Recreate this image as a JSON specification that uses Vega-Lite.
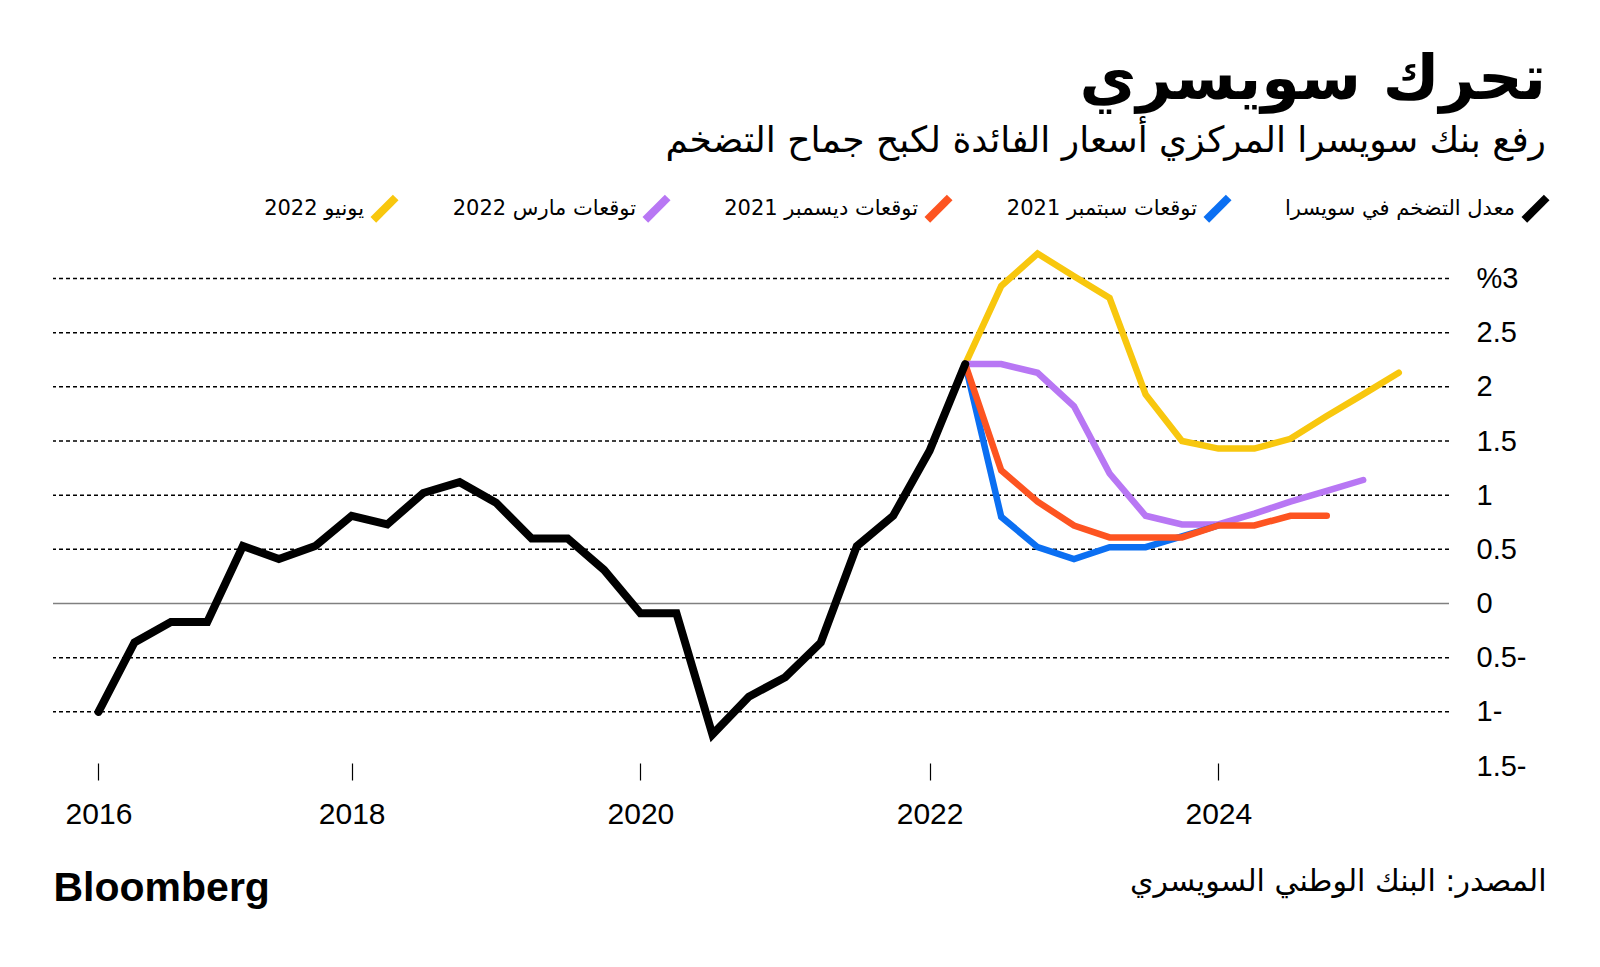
{
  "$schema": "https://vega.github.io/schema/vega-lite/v6.json",
  "width": 1396,
  "height": 520,
  "autosize": {"type": "none"},
  "padding": {"left": 53, "top": 246, "right": 151, "bottom": 201},
  "background": "white",
  "config": {"view": {"stroke": null}, "font": "DejaVu Sans"},
  "title": {
    "text": "تحرك سويسري",
    "subtitle": "رفع بنك سويسرا المركزي أسعار الفائدة لكبح جماح التضخم",
    "anchor": "end",
    "frame": "group",
    "dx": 97,
    "offset": 33,
    "font": "DejaVu Sans",
    "fontSize": 62,
    "fontWeight": "bold",
    "color": "#000000",
    "subtitleFont": "DejaVu Sans",
    "subtitleFontSize": 36,
    "subtitleColor": "#000000",
    "subtitlePadding": 12
  },
  "datasets": {
    "grid": [{"v": -1}, {"v": -0.5}, {"v": 0.5}, {"v": 1}, {"v": 1.5}, {"v": 2}, {"v": 2.5}, {"v": 3}],
    "zero": [{"v": 0}],
    "main": [
      {"date": "2016-04-01", "series": "معدل التضخم في سويسرا", "value": -1.0},
      {"date": "2016-07-01", "series": "معدل التضخم في سويسرا", "value": -0.36},
      {"date": "2016-10-01", "series": "معدل التضخم في سويسرا", "value": -0.17},
      {"date": "2017-01-01", "series": "معدل التضخم في سويسرا", "value": -0.17},
      {"date": "2017-04-01", "series": "معدل التضخم في سويسرا", "value": 0.53},
      {"date": "2017-07-01", "series": "معدل التضخم في سويسرا", "value": 0.41},
      {"date": "2017-10-01", "series": "معدل التضخم في سويسرا", "value": 0.53},
      {"date": "2018-01-01", "series": "معدل التضخم في سويسرا", "value": 0.81},
      {"date": "2018-04-01", "series": "معدل التضخم في سويسرا", "value": 0.73},
      {"date": "2018-07-01", "series": "معدل التضخم في سويسرا", "value": 1.02},
      {"date": "2018-10-01", "series": "معدل التضخم في سويسرا", "value": 1.12},
      {"date": "2019-01-01", "series": "معدل التضخم في سويسرا", "value": 0.93},
      {"date": "2019-04-01", "series": "معدل التضخم في سويسرا", "value": 0.6},
      {"date": "2019-07-01", "series": "معدل التضخم في سويسرا", "value": 0.6},
      {"date": "2019-10-01", "series": "معدل التضخم في سويسرا", "value": 0.31},
      {"date": "2020-01-01", "series": "معدل التضخم في سويسرا", "value": -0.09},
      {"date": "2020-04-01", "series": "معدل التضخم في سويسرا", "value": -0.09},
      {"date": "2020-07-01", "series": "معدل التضخم في سويسرا", "value": -1.21},
      {"date": "2020-10-01", "series": "معدل التضخم في سويسرا", "value": -0.86},
      {"date": "2021-01-01", "series": "معدل التضخم في سويسرا", "value": -0.68},
      {"date": "2021-04-01", "series": "معدل التضخم في سويسرا", "value": -0.36},
      {"date": "2021-07-01", "series": "معدل التضخم في سويسرا", "value": 0.53},
      {"date": "2021-10-01", "series": "معدل التضخم في سويسرا", "value": 0.81},
      {"date": "2022-01-01", "series": "معدل التضخم في سويسرا", "value": 1.41},
      {"date": "2022-04-01", "series": "معدل التضخم في سويسرا", "value": 2.21},

      {"date": "2022-04-01", "series": "يونيو 2022", "value": 2.21},
      {"date": "2022-07-01", "series": "يونيو 2022", "value": 2.93},
      {"date": "2022-10-01", "series": "يونيو 2022", "value": 3.23},
      {"date": "2023-01-01", "series": "يونيو 2022", "value": 3.02},
      {"date": "2023-04-01", "series": "يونيو 2022", "value": 2.82},
      {"date": "2023-07-01", "series": "يونيو 2022", "value": 1.93},
      {"date": "2023-10-01", "series": "يونيو 2022", "value": 1.5},
      {"date": "2024-01-01", "series": "يونيو 2022", "value": 1.43},
      {"date": "2024-04-01", "series": "يونيو 2022", "value": 1.43},
      {"date": "2024-07-01", "series": "يونيو 2022", "value": 1.52},
      {"date": "2024-10-01", "series": "يونيو 2022", "value": 1.73},
      {"date": "2025-01-01", "series": "يونيو 2022", "value": 1.93},
      {"date": "2025-04-01", "series": "يونيو 2022", "value": 2.13},

      {"date": "2022-04-01", "series": "توقعات مارس 2022", "value": 2.21},
      {"date": "2022-07-01", "series": "توقعات مارس 2022", "value": 2.21},
      {"date": "2022-10-01", "series": "توقعات مارس 2022", "value": 2.13},
      {"date": "2023-01-01", "series": "توقعات مارس 2022", "value": 1.82},
      {"date": "2023-04-01", "series": "توقعات مارس 2022", "value": 1.2},
      {"date": "2023-07-01", "series": "توقعات مارس 2022", "value": 0.81},
      {"date": "2023-10-01", "series": "توقعات مارس 2022", "value": 0.73},
      {"date": "2024-01-01", "series": "توقعات مارس 2022", "value": 0.73},
      {"date": "2024-04-01", "series": "توقعات مارس 2022", "value": 0.83},
      {"date": "2024-07-01", "series": "توقعات مارس 2022", "value": 0.94},
      {"date": "2024-10-01", "series": "توقعات مارس 2022", "value": 1.04},
      {"date": "2025-01-01", "series": "توقعات مارس 2022", "value": 1.14},

      {"date": "2022-04-01", "series": "توقعات سبتمبر 2021", "value": 2.21},
      {"date": "2022-07-01", "series": "توقعات سبتمبر 2021", "value": 0.8},
      {"date": "2022-10-01", "series": "توقعات سبتمبر 2021", "value": 0.52},
      {"date": "2023-01-01", "series": "توقعات سبتمبر 2021", "value": 0.41},
      {"date": "2023-04-01", "series": "توقعات سبتمبر 2021", "value": 0.52},
      {"date": "2023-07-01", "series": "توقعات سبتمبر 2021", "value": 0.52},
      {"date": "2023-10-01", "series": "توقعات سبتمبر 2021", "value": 0.62},
      {"date": "2024-01-01", "series": "توقعات سبتمبر 2021", "value": 0.72},

      {"date": "2022-04-01", "series": "توقعات ديسمبر 2021", "value": 2.21},
      {"date": "2022-07-01", "series": "توقعات ديسمبر 2021", "value": 1.23},
      {"date": "2022-10-01", "series": "توقعات ديسمبر 2021", "value": 0.94},
      {"date": "2023-01-01", "series": "توقعات ديسمبر 2021", "value": 0.72},
      {"date": "2023-04-01", "series": "توقعات ديسمبر 2021", "value": 0.61},
      {"date": "2023-07-01", "series": "توقعات ديسمبر 2021", "value": 0.61},
      {"date": "2023-10-01", "series": "توقعات ديسمبر 2021", "value": 0.61},
      {"date": "2024-01-01", "series": "توقعات ديسمبر 2021", "value": 0.72},
      {"date": "2024-04-01", "series": "توقعات ديسمبر 2021", "value": 0.72},
      {"date": "2024-07-01", "series": "توقعات ديسمبر 2021", "value": 0.81},
      {"date": "2024-10-01", "series": "توقعات ديسمبر 2021", "value": 0.81}
    ]
  },
  "layer": [
    {
      "data": {"name": "grid"},
      "mark": {"type": "rule", "color": "#000000", "strokeWidth": 1.5, "strokeDash": [4, 3]},
      "encoding": {
        "y": {"field": "v", "type": "quantitative", "scale": {"domain": [-1.5, 3.3], "nice": false, "zero": false}}
      }
    },
    {
      "data": {"name": "zero"},
      "mark": {"type": "rule", "color": "#808080", "strokeWidth": 1.5},
      "encoding": {
        "y": {"field": "v", "type": "quantitative", "scale": {"domain": [-1.5, 3.3], "nice": false, "zero": false}}
      }
    },
    {
      "data": {"name": "main"},
      "transform": [{"filter": "datum.series !== 'معدل التضخم في سويسرا'"}],
      "mark": {"type": "line", "strokeWidth": 6.5, "strokeCap": "round"},
      "encoding": {
        "x": {
          "field": "date", "type": "temporal",
          "scale": {"domain": [{"year": 2015, "month": 12, "date": 8, "utc": true}, {"year": 2025, "month": 8, "date": 6, "utc": true}]},
          "axis": {
            "values": [
              {"year": 2016, "month": 4, "date": 1, "utc": true},
              {"year": 2018, "month": 1, "date": 1, "utc": true},
              {"year": 2020, "month": 1, "date": 1, "utc": true},
              {"year": 2022, "month": 1, "date": 1, "utc": true},
              {"year": 2024, "month": 1, "date": 1, "utc": true}
            ],
            "labelExpr": "utcFormat(datum.value, '%Y')",
            "domain": false, "grid": false,
            "ticks": true, "tickSize": 17, "tickColor": "#000000", "tickWidth": 1.2, "offset": -3,
            "labelFont": "Liberation Sans", "labelFontSize": 30, "labelColor": "#000000", "labelPadding": 19,
            "labelFlush": false,
            "title": "المصدر: البنك الوطني السويسري",
            "titleFont": "DejaVu Sans", "titleFontSize": 30, "titleFontWeight": "normal", "titleColor": "#000000",
            "titleX": 1493, "titleY": 118, "titleAlign": "right", "titleBaseline": "middle", "titleAnchor": null
          }
        },
        "y": {
          "field": "value", "type": "quantitative",
          "scale": {"domain": [-1.5, 3.3], "nice": false, "zero": false},
          "axis": {
            "orient": "right",
            "values": [-1.5, -1, -0.5, 0, 0.5, 1, 1.5, 2, 2.5, 3],
            "labelExpr": "datum.value == 3 ? '%3' : (datum.value < 0 ? format(-datum.value, '') + '-' : format(datum.value, ''))",
            "domain": false, "ticks": false, "grid": false,
            "labelFont": "Liberation Sans", "labelFontSize": 29, "labelColor": "#000000", "labelPadding": 27,
            "labelAlign": "left", "labelFlush": false,
            "title": "Bloomberg",
            "titleFont": "Liberation Sans", "titleFontSize": 41, "titleFontWeight": "bold", "titleColor": "#000000",
            "titleAngle": 0, "titleX": -1396, "titleY": 642, "titleAlign": "left", "titleBaseline": "middle"
          }
        },
        "color": {
          "field": "series", "type": "nominal",
          "scale": {
            "domain": ["يونيو 2022", "توقعات مارس 2022", "توقعات ديسمبر 2021", "توقعات سبتمبر 2021", "معدل التضخم في سويسرا"],
            "range": ["#F8C70E", "#B877F4", "#FD5421", "#0B6FF2", "#000000"]
          },
          "legend": {
            "orient": "none", "legendX": 316, "legendY": -53,
            "direction": "horizontal", "title": null,
            "symbolType": "M-1,1L1,-1", "symbolSize": 500, "symbolStrokeWidth": 8,
            "labelFont": "DejaVu Sans", "labelFontSize": 21, "labelColor": "#000000",
            "labelAlign": "right", "labelOffset": -36, "labelLimit": 400,
            "columnPadding": 40
          }
        }
      }
    },
    {
      "data": {"name": "main"},
      "transform": [{"filter": "datum.series === 'معدل التضخم في سويسرا'"}],
      "mark": {"type": "line", "strokeWidth": 8, "strokeCap": "round"},
      "encoding": {
        "x": {"field": "date", "type": "temporal"},
        "y": {"field": "value", "type": "quantitative", "scale": {"domain": [-1.5, 3.3], "nice": false, "zero": false}},
        "color": {"field": "series", "type": "nominal"}
      }
    }
  ]
}
